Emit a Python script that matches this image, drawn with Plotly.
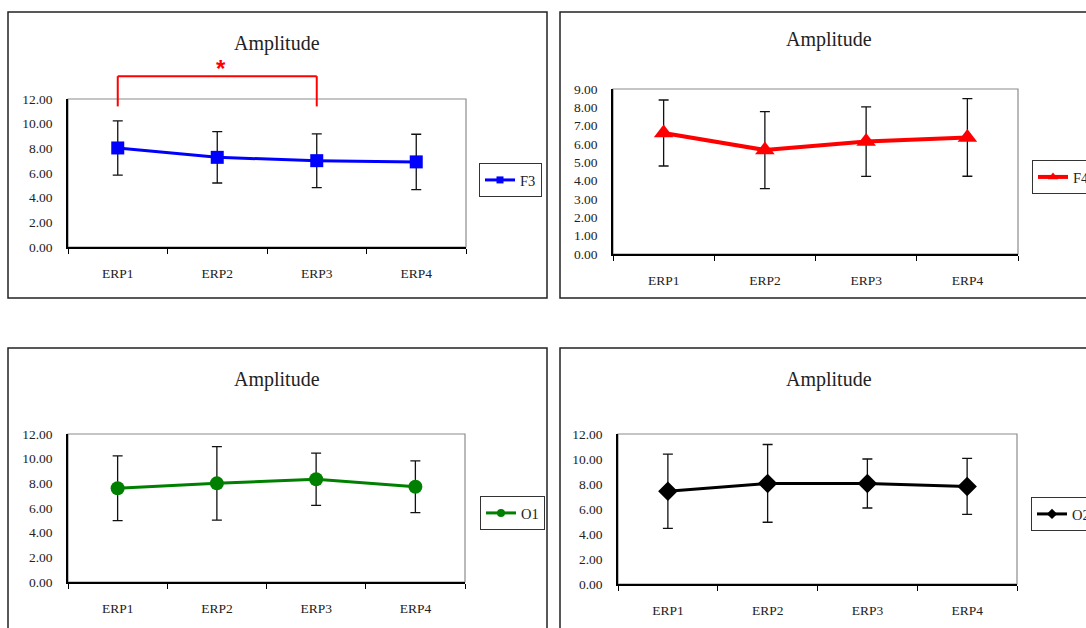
import plotly.graph_objects as go

# ---- data -------------------------------------------------------------
categories = ["ERP1", "ERP2", "ERP3", "ERP4"]

f3_mean = [8.03, 7.27, 7.00, 6.90]
f3_sd = [2.20, 2.08, 2.18, 2.24]

f4_mean = [6.60, 5.67, 6.13, 6.36]
f4_sd = [1.80, 2.10, 1.90, 2.12]

o1_mean = [7.60, 8.00, 8.33, 7.72]
o1_sd = [2.62, 2.98, 2.12, 2.10]

o2_mean = [7.42, 8.05, 8.04, 7.81]
o2_sd = [2.97, 3.11, 1.96, 2.24]

# significance bracket for F3 (ERP1 vs ERP3), heights in amplitude units
sig_pair = ("ERP1", "ERP3")
sig_low, sig_high, sig_star = 11.4, 13.85, 14.5

# ---- layout helpers ---------------------------------------------------
W, H = 1086, 628
FONT = "Liberation Serif"
TXT = "#222222"


def dom_x(left, right):
    return [left / W, right / W]


def dom_y(top, bottom):
    return [1 - bottom / H, 1 - top / H]


panels = [
    # name, mean, sd, colour, symbol, marker size, line width, y max, y step,
    # plot box (left, right, top, bottom), title centre, legend top-left
    dict(name="F3", mean=f3_mean, sd=f3_sd, color="#0000FF", symbol="square",
         msize=13, lw=3, ymax=12, dtick=2, box=(68, 466, 99, 247),
         title=(277, 43), legend=(479, 163), lmsize=7),
    dict(name="F4", mean=f4_mean, sd=f4_sd, color="#FF0000", symbol="triangle-up",
         msize=17, lw=4, ymax=9, dtick=1, box=(613, 1018, 89, 254),
         title=(829, 39), legend=(1032, 160), lmsize=9),
    dict(name="O1", mean=o1_mean, sd=o1_sd, color="#008000", symbol="circle",
         msize=14, lw=3, ymax=12, dtick=2, box=(68, 465, 434, 582),
         title=(277, 379), legend=(480, 496), lmsize=8),
    dict(name="O2", mean=o2_mean, sd=o2_sd, color="#000000", symbol="diamond",
         msize=15, lw=3, ymax=12, dtick=2, box=(618, 1017, 434, 584),
         title=(829, 379), legend=(1031, 497), lmsize=8),
]

outer_boxes = [(8, 547, 12, 298), (560, 1092, 12, 298),
               (8, 547, 348, 634), (560, 1092, 348, 634)]

fig = go.Figure()
layout = dict(
    width=W, height=H,
    margin=dict(l=0, r=0, t=0, b=0, autoexpand=False),
    paper_bgcolor="white", plot_bgcolor="white",
    font=dict(family=FONT, color=TXT, size=13),
    showlegend=True,
)
shapes = []
annotations = []

for i, p in enumerate(panels):
    k = "" if i == 0 else str(i + 1)
    xa, ya = "x" + k, "y" + k
    leg = "legend" + k

    # data series with standard-deviation bars
    fig.add_trace(go.Scatter(
        x=categories, y=p["mean"], xaxis=xa, yaxis=ya,
        mode="lines+markers", name=p["name"], showlegend=False,
        line=dict(color=p["color"], width=p["lw"]),
        marker=dict(symbol=p["symbol"], size=p["msize"], color=p["color"]),
        error_y=dict(type="data", array=p["sd"], visible=True,
                     color="#111111", thickness=1.3, width=5),
        cliponaxis=False,
    ))
    # legend entry (smaller marker, like a spreadsheet key)
    fig.add_trace(go.Scatter(
        x=[None], y=[None], xaxis=xa, yaxis=ya, mode="lines+markers",
        name=p["name"], legend=leg,
        line=dict(color=p["color"], width=p["lw"]),
        marker=dict(symbol=p["symbol"], size=p["lmsize"], color=p["color"]),
    ))

    l, r, t, b = p["box"]
    layout["xaxis" + k] = dict(
        domain=dom_x(l, r), anchor=ya, type="category",
        range=[-0.5, len(categories) - 0.5], fixedrange=True,
        showline=True, linecolor="#000000", linewidth=1.5,
        ticks="outside", tickson="boundaries", ticklen=5, tickcolor="#000000",
        ticklabelstandoff=13, showgrid=False, zeroline=False,
        tickfont=dict(family=FONT, size=13.5, color=TXT),
    )
    layout["yaxis" + k] = dict(
        domain=dom_y(t, b), anchor=xa, range=[0, p["ymax"]], dtick=p["dtick"],
        tickformat=".2f", fixedrange=True,
        showline=True, linecolor="#000000", linewidth=1.5,
        ticks="", ticklabelstandoff=11, showgrid=False, zeroline=False,
        tickfont=dict(family=FONT, size=13.5, color=TXT),
    )
    # grey frame around the plot area
    shapes.append(dict(type="rect", xref=xa + " domain", yref=ya + " domain",
                       x0=0, x1=1, y0=0, y1=1, layer="below",
                       line=dict(color="#8c8c8c", width=1.2)))

    lx, ly = p["legend"]
    layout[leg] = dict(
        x=lx / W, y=1 - ly / H, xanchor="left", yanchor="top",
        bgcolor="white", bordercolor="#333333", borderwidth=1,
        font=dict(family=FONT, size=14.5, color=TXT),
        itemwidth=30, tracegroupgap=0,
    )

    tx, ty = p["title"]
    annotations.append(dict(text="Amplitude", xref="paper", yref="paper",
                            x=tx / W, y=1 - ty / H, showarrow=False,
                            xanchor="center", yanchor="middle",
                            font=dict(family=FONT, size=20, color=TXT)))

# panel frames
for (l, r, t, b) in outer_boxes:
    shapes.append(dict(type="rect", xref="paper", yref="paper",
                       x0=l / W, x1=r / W, y0=1 - b / H, y1=1 - t / H,
                       line=dict(color="#222222", width=1.5)))

# significance bracket on the F3 panel
i0, i1 = categories.index(sig_pair[0]), categories.index(sig_pair[1])
ymax0 = panels[0]["ymax"]
lo, hi = sig_low / ymax0, sig_high / ymax0
for (x0, y0, x1, y1) in [(i0, lo, i0, hi), (i0, hi, i1, hi), (i1, hi, i1, lo)]:
    shapes.append(dict(type="line", xref="x", yref="y domain",
                       x0=x0, x1=x1, y0=y0, y1=y1,
                       line=dict(color="#FF0000", width=2)))
annotations.append(dict(text="<b>*</b>", xref="x", yref="y domain",
                        x=(i0 + i1) / 2, y=sig_star / ymax0, xshift=4,
                        showarrow=False, xanchor="center", yanchor="middle",
                        font=dict(family="Liberation Sans", size=24,
                                  color="#FF0000")))

layout["shapes"] = shapes
layout["annotations"] = annotations
fig.update_layout(**layout)
fig.write_html("out.html")
